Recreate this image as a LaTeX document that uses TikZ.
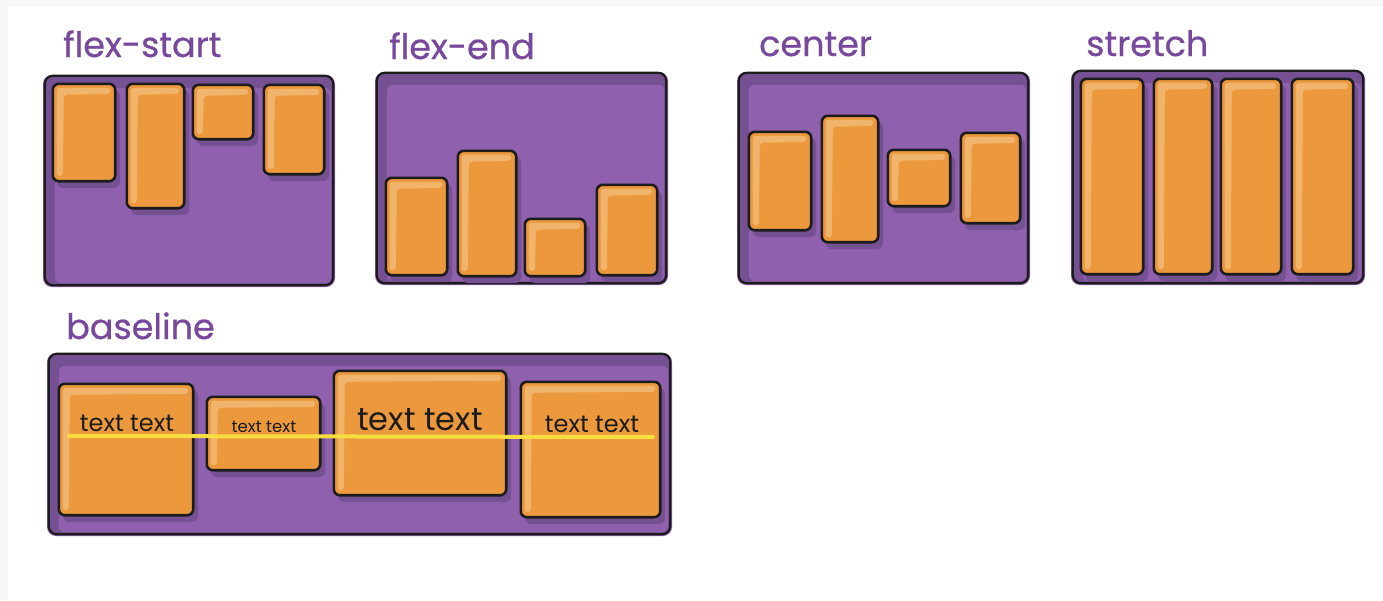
\documentclass[tikz,border=0pt]{standalone}
\usepackage{fontspec}
\setmainfont{Poppins}
\newfontfamily\headfont[FakeBold=0.6]{Poppins}
\usetikzlibrary{fit}

\definecolor{boxpurple}{RGB}{142,96,174}
\definecolor{boxpurpledark}{RGB}{117,80,146}
\definecolor{itemorange}{RGB}{236,153,62}
\definecolor{itemlight}{RGB}{241,180,108}
\definecolor{inkline}{RGB}{28,28,28}
\definecolor{titlepurple}{RGB}{120,72,156}
\definecolor{baseyellow}{RGB}{246,222,62}
\definecolor{framegrey}{RGB}{248,248,248}

\tikzset{
  heading/.style={anchor=base west, text=titlepurple, inner sep=0pt,
    font=\headfont\fontsize{35}{40}\selectfont},
  sample/.style={anchor=base, text=inkline, inner sep=0pt},
  outline/.style={draw=inkline, line width=2.6pt},
}

% container: name, x1, y1, x2, y2 (pixel-like units, y downwards)
\newcommand\flexcontainer[5]{%
  \fill[boxpurple, rounded corners=9pt] (#2-2,#3-1) rectangle (#4+2,#5+2);
  \node[fit={(#2,#3) (#4,#5)}, inner sep=0pt, fill=boxpurpledark,
        rounded corners=8pt] (#1) {};
  \fill[boxpurple, rounded corners=6pt]
    ([xshift=10pt,yshift=-12pt]#1.north west) rectangle
    ([xshift=-2pt,yshift=2pt]#1.south east);
  \draw[outline, line width=2.2pt, rounded corners=8pt]
    (#1.north west) rectangle (#1.south east);
}

% flex item: name, x1, y1, x2, y2
\newcommand\flexitem[5]{%
  \fill[boxpurpledark, rounded corners=6pt] (#2+4,#3+6) rectangle (#4+5,#5+7);
  \node[fit={(#2,#3) (#4,#5)}, inner sep=0pt, fill=itemorange,
        rounded corners=6pt] (#1) {};
  \fill[itemlight, rounded corners=3pt]
    ([xshift=4pt,yshift=-4pt]#1.north west) --
    ([xshift=-5pt,yshift=-4pt]#1.north east) --
    ([xshift=-5pt,yshift=-10pt]#1.north east) --
    ([xshift=11pt,yshift=-11pt]#1.north west) --
    ([xshift=10pt,yshift=5pt]#1.south west) --
    ([xshift=4pt,yshift=5pt]#1.south west) -- cycle;
  \draw[outline, rounded corners=6pt] (#1.north west) rectangle (#1.south east);
}

\begin{document}
\begin{tikzpicture}[x=1pt, y=-1pt]
  \useasboundingbox (0,0) rectangle (1383,600);
  \fill[white] (0,0) rectangle (1383,600);
  \fill[framegrey] (0,0) rectangle (1383,7);
  \fill[framegrey] (0,0) rectangle (8,600);

  % flex-start
  \node[heading] (tstart) at (63,57) {flex-start};
  \flexcontainer{cstart}{45}{76}{333}{285}
  \flexitem{s1}{53}{84}{115}{181}
  \flexitem{s2}{127}{84}{184}{208}
  \flexitem{s3}{193}{85}{253}{139}
  \flexitem{s4}{264}{85}{324}{174}

  % flex-end
  \node[heading] (tend) at (389,59) {flex-end};
  \flexcontainer{cend}{377}{73}{666}{283}
  \flexitem{e1}{386}{178}{447}{275}
  \flexitem{e2}{458}{151}{516}{276}
  \flexitem{e3}{525}{219}{585}{276}
  \flexitem{e4}{597}{185}{657}{275}

  % center
  \node[heading] (tcenter) at (759,56) {center};
  \flexcontainer{ccenter}{739}{73}{1028}{283}
  \flexitem{m1}{749}{132}{811}{230}
  \flexitem{m2}{822}{116}{878}{242}
  \flexitem{m3}{888}{150}{950}{206}
  \flexitem{m4}{961}{133}{1020}{223}

  % stretch
  \node[heading] (tstretch) at (1086,56) {stretch};
  \flexcontainer{cstretch}{1073}{71}{1363}{283}
  \flexitem{r1}{1081}{79}{1143}{274}
  \flexitem{r2}{1154}{79}{1212}{274}
  \flexitem{r3}{1221}{79}{1281}{274}
  \flexitem{r4}{1292}{79}{1353}{274}

  % baseline
  \node[heading] (tbase) at (66,339) {baseline};
  \flexcontainer{cbase}{49}{354}{670}{534}
  \flexitem{b1}{59}{384}{193}{515}
  \flexitem{b2}{207}{397}{320}{470}
  \flexitem{b3}{334}{371}{506}{495}
  \flexitem{b4}{521}{382}{660}{517}

  \node[sample, font=\fontsize{24}{28}\selectfont] (bt1) at (127,431) {text text};
  \node[sample, font=\fontsize{16.5}{20}\selectfont] (bt2) at (264,432) {text text};
  \node[sample, font=\fontsize{32}{36}\selectfont] (bt3) at (420,430) {text text};
  \node[sample, font=\fontsize{24}{28}\selectfont] (bt4) at (592,432) {text text};

  \coordinate (ylA) at (69,436);
  \coordinate (ylB) at (653,437);
  \draw[baseyellow, line width=4pt, line cap=round] (ylA) -- (ylB);
\end{tikzpicture}
\end{document}
